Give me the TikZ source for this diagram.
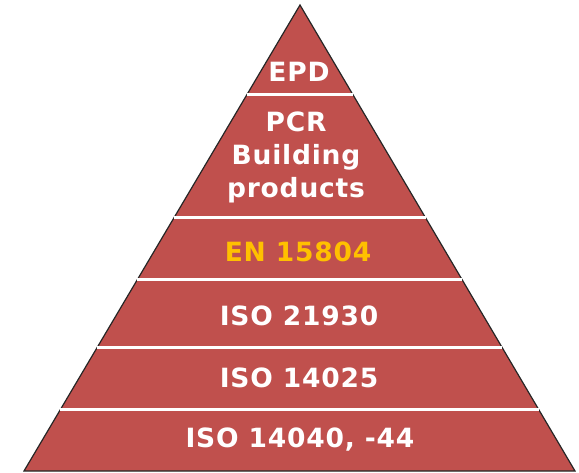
\documentclass[tikz,border=0pt]{standalone}
\usepackage{fontspec}
\setmainfont{DejaVu Sans}[LetterSpace=3]
\usetikzlibrary{calc}
\definecolor{pyrred}{HTML}{C0504D}
\definecolor{pyryellow}{HTML}{FFC000}
\begin{document}
\begin{tikzpicture}[
		x=1pt,y=-1pt,
		every node/.append style={
			font=\fontsize{26.5}{33}\selectfont\bfseries,
			text=white,
			align=center,
			inner sep=0pt,
		},
		level/.style={white,line width=3pt},
		std/.style={text=pyryellow},
	]
	\useasboundingbox (0,0) rectangle (579,473);
	\coordinate (apex) at (300,5);
	\coordinate (bl) at (24,471);
	\coordinate (br) at (575,471);
	% the pyramid
	\draw[fill=pyrred,draw=black!85,line width=1.2pt,line join=miter] (apex) -- (bl) -- (br) -- cycle;
	% separating lines between the levels
	\foreach \h in {95,218,280,348,410}{
		\draw[level] ($(apex)!{(\h-5)/466}!(bl)$) -- ($(apex)!{(\h-5)/466}!(br)$);
	}
	% labels of the levels
	\node (epd) at (299,72) {EPD};
	\node (pcr) at (296,157) {PCR\\Building\\products};
	\node[std] (en) at (298,252) {EN 15804};
	\node (iso21930) at (299,316) {ISO 21930};
	\node (iso14025) at (299,378) {ISO 14025};
	\node (iso14040) at (300,440) {ISO 14040, -44};
\end{tikzpicture}
\end{document}
